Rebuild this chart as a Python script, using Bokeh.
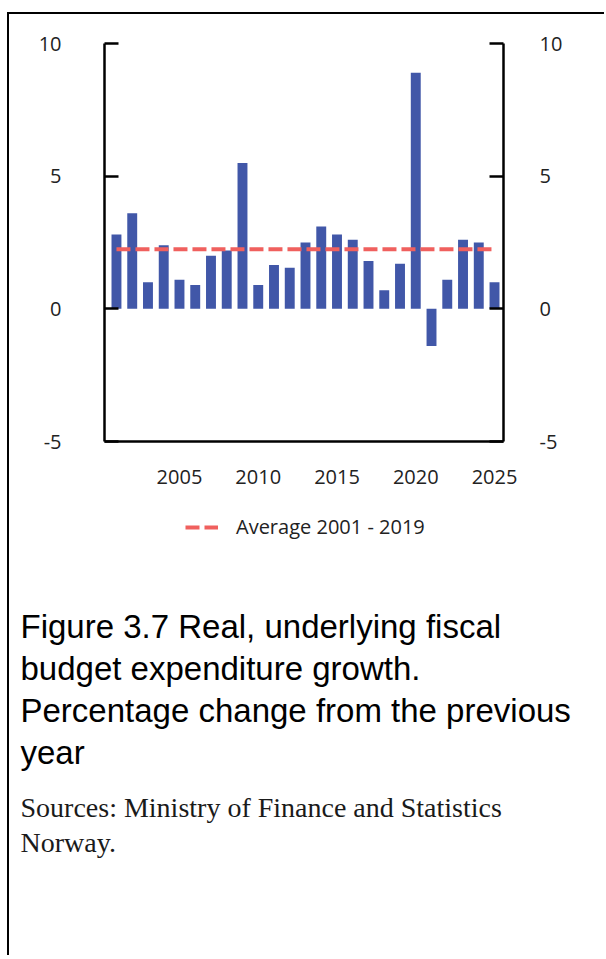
import numpy as np
from bokeh.plotting import figure
from bokeh.models import (Range1d, LinearAxis, FixedTicker, Legend, LegendItem,
                          ColumnDataSource)
from bokeh.layouts import column
from bokeh.embed import file_html
from bokeh.resources import INLINE
from bokeh.core.properties import value

# ---------------- data ----------------
years = list(range(2001, 2026))
growth = [2.8, 3.6, 1.0, 2.4, 1.1, 0.9, 2.0, 2.2, 5.5, 0.9, 1.65, 1.55, 2.5,
          3.1, 2.8, 2.6, 1.8, 0.7, 1.7, 8.9, -1.4, 1.1, 2.6, 2.5, 1.0]
average_2001_2019 = 2.25
x_ticks = [2005, 2010, 2015, 2020, 2025]
y_ticks = [-5, 0, 5, 10]
y_tick_labels = {-5: "-5", 0: "0", 5: "5", 10: "10"}
legend_label = "Average 2001 - 2019"
title_lines = ["Figure 3.7 Real, underlying fiscal",
               "budget expenditure growth.",
               "Percentage change from the previous",
               "year"]
source_lines = ["Sources: Ministry of Finance and Statistics", "Norway."]

# ---------------- styles / layout ----------------
BAR = "#4157A8"
AVG = "#F0605E"
TICK_FONT = "Open Sans"
TICK_SIZE = "20px"

W = 595
H1, H2 = 486, 455
ML, MR, MT = 95, W - 494, 29
MB = H1 - MT - 398

p = figure(width=W, height=H1,
           x_range=Range1d(2000.24, 2025.57), y_range=Range1d(-5, 10),
           output_backend="svg", toolbar_location=None,
           x_axis_location=None, y_axis_location=None,
           min_border_left=ML, min_border_right=MR,
           min_border_top=MT, min_border_bottom=MB,
           frame_align=False)
p.xgrid.grid_line_color = None
p.ygrid.grid_line_color = None
p.outline_line_color = None


def make_axis(ticks, standoff, tick_in):
    return LinearAxis(ticker=FixedTicker(ticks=ticks),
                      major_tick_in=tick_in, major_tick_out=0,
                      minor_tick_line_color=None,
                      axis_line_width=2.5, axis_line_color="black",
                      major_tick_line_width=2.5, major_tick_line_color="black",
                      major_label_standoff=standoff,
                      major_label_text_font=TICK_FONT,
                      major_label_text_font_size=TICK_SIZE,
                      major_label_text_color="#222222")


left = make_axis(y_ticks, 43, 14)
right = make_axis(y_ticks, 36, 14)
left.major_label_overrides = y_tick_labels
right.major_label_overrides = y_tick_labels
bottom = make_axis(x_ticks, 28, 0)
bottom.major_tick_line_color = None
p.add_layout(left, "left")
p.add_layout(right, "right")
p.add_layout(bottom, "below")

src = ColumnDataSource(dict(year=years, growth=growth))
p.vbar(x="year", top="growth", bottom=0, width=0.63, source=src,
       fill_color=BAR, line_color=None)

avg_style = dict(line_color=AVG, line_width=4, line_dash="14 5")
avg_line = p.line(x=[years[0], years[-1]], y=[average_2001_2019, average_2001_2019],
                  **avg_style)

# ---------------- legend + caption figure (pixel coordinates) ----------------
t = figure(width=W, height=H2, x_range=Range1d(0, W), y_range=Range1d(H2, 0),
           output_backend="svg", toolbar_location=None,
           x_axis_location=None, y_axis_location=None, min_border=0,
           frame_align=False)
t.xgrid.grid_line_color = None
t.ygrid.grid_line_color = None
t.outline_line_color = None

# legend entry for the average line (same style as in the chart; no visible data)
legend_line = t.line(x=np.array([np.nan]), y=np.array([np.nan]), **avg_style)
legend = Legend(items=[LegendItem(label=legend_label, renderers=[legend_line])],
                orientation="horizontal", location=(176, H2 - 40),
                border_line_color=None, background_fill_alpha=0,
                padding=0, margin=0,
                glyph_width=33, label_standoff=18,
                label_text_font=TICK_FONT, label_text_font_size=TICK_SIZE,
                label_text_color="#222222")
t.add_layout(legend, "center")

title_y0, title_dy = 126, 42
src_y0, src_dy = 307, 35
t.text(x=[11] * len(title_lines),
       y=[title_y0 + i * title_dy for i in range(len(title_lines))],
       text=title_lines, text_font=value("Liberation Sans"),
       text_font_size="33px", text_baseline="alphabetic", text_color="#000000")
t.text(x=[11] * len(source_lines),
       y=[src_y0 + i * src_dy for i in range(len(source_lines))],
       text=source_lines, text_font=value("Liberation Serif"),
       text_font_size="28px", text_baseline="alphabetic", text_color="#1a1a1a")

layout = column(p, t, margin=(12, 0, 0, 7),
                styles={"border-left": "2px solid black",
                        "border-top": "2px solid black"})

open("out.html", "w").write(file_html(layout, INLINE))
